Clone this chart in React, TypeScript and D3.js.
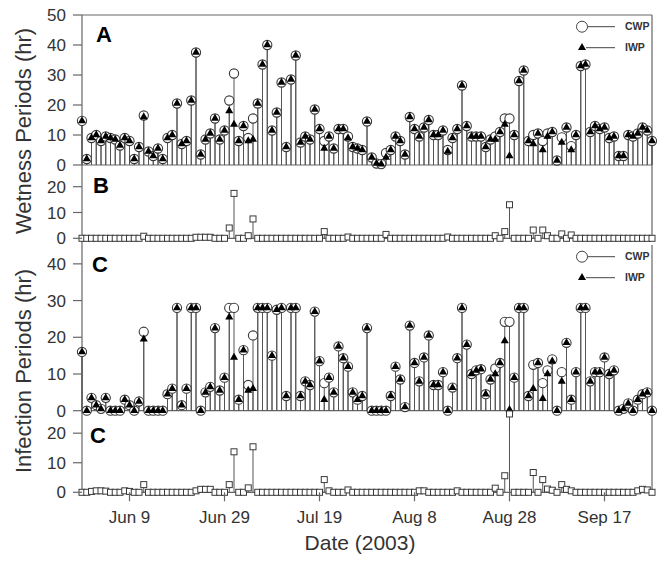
import React from 'react';
import * as d3 from 'd3';

// ---------- data ----------
const startDate = new Date(2003, 4, 30);
const endDate = new Date(2003, 8, 27);
const days = d3.timeDay.range(startDate, d3.timeDay.offset(endDate, 1));

// Panel A: wetness periods (hr)
const wetCWP = [
  14.7, 2, 9, 10, 8, 9.5, 9, 8.5, 6.5, 9,
  8, 2, 6, 16.5, 4.5, 3, 5.5, 2, 9, 10,
  20.5, 7, 8, 21.5, 37.5, 3.5, 8.5, 10.5, 15.5, 8.5,
  11.5, 21.5, 30.5, 8, 13, 9, 15.5, 20.5, 33.5, 40,
  11.5, 17.5, 27.5, 6, 28.5, 36.5, 7.5, 9.5, 8.5, 18.5,
  12, 8, 9.5, 5.5, 12, 12, 9.5, 6, 5.5, 5,
  14.5, 2.5, 0.5, 0.3, 4, 5, 9.5, 8, 3.5, 16,
  12, 9.5, 12.5, 15, 10, 10, 11.5, 5, 9, 12,
  26.5, 13, 9.5, 9.5, 9.5, 6, 8.5, 9.5, 11, 15.5,
  15.5, 10, 28, 31.5, 8, 10, 10.5, 8, 10.5, 11,
  1.5, 9.2, 12.5, 6.3, 10, 33, 33.5, 11, 13, 12,
  12.5, 9, 9.5, 3, 3, 10, 9.5, 10.5, 12.5, 11.5,
  8,
];
const wetIWP = [
  14.7, 2, 9, 10, 8, 9.5, 9, 8.5, 6.5, 9,
  8, 2, 6, 16, 4.5, 3, 5.5, 2, 9, 10,
  20.5, 7, 8, 21.5, 37.5, 3.5, 8.5, 10.5, 15.5, 8.5,
  11.5, 18, 13.5, 8, 13, 8, 8.5, 20.5, 33.5, 40,
  11.5, 17.5, 27.5, 6, 28.5, 36.5, 7.5, 9.5, 8.5, 18.5,
  12, 5.5, 9.5, 5.5, 12, 12, 9, 6, 5.5, 5,
  14.5, 2.5, 0.5, 0.3, 2.5, 5, 9.5, 8, 3.5, 16,
  12, 9.5, 12.5, 15, 10, 10, 11.5, 4.5, 9, 12,
  26.5, 13, 9.5, 9.5, 9.5, 6, 8.5, 8.5, 11, 13.5,
  3, 10, 28, 31.5, 8, 7, 10.5, 5, 9.5, 11,
  1.5, 7.5, 12.5, 5, 10, 33, 33.5, 11, 13, 12,
  12.5, 9, 9.5, 3, 3, 10, 9.5, 10.5, 12.5, 11.5,
  8,
];
// Panel B
const wetDiff = [
  0, 0, 0, 0, 0, 0, 0, 0, 0, 0,
  0, 0, 0, 0.8, 0, 0, 0, 0, 0, 0,
  0, 0, 0, 0, 0.4, 0.4, 0.4, 0.4, 0, 0,
  0, 4, 17.4, 0, 0, 1, 7.5, 0, 0, 0,
  0, 0, 0, 0, 0, 0, 0, 0, 0, 0,
  0, 2.6, 0, 0, 0, 0, 0.5, 0, 0, 0,
  0, 0, 0, 0, 1.5, 0, 0, 0, 0, 0,
  0, 0, 0, 0, 0, 0, 0, 0.5, 0, 0,
  0, 0, 0, 0, 0, 0, 0, 1, 0, 2.6,
  13, 0, 0, 0, 0, 3.2, 0, 3.2, 1, 0,
  0, 1.7, 0, 1.3, 0, 0, 0, 0, 0, 0,
  0, 0, 0, 0, 0, 0, 0, 0, 0, 0,
  0,
];
// Panel C: infection periods (hr)
const infCWP = [
  16, 0, 3.5, 1.5, 0.5, 3.5, 0, 0, 0, 3,
  1.5, 0, 2.5, 21.5, 0, 0, 0, 0, 4.5, 6,
  28, 1.5, 6, 28, 28, 0, 5, 6.5, 22.5, 5.5,
  9, 28, 28, 3, 16.5, 7, 20.5, 28, 28, 28,
  15, 27.5, 28, 4, 28, 28, 4, 8, 7, 27,
  13.5, 7.5, 9, 5, 17.5, 14.3, 12, 5, 3, 4,
  22.5, 0, 0, 0, 0, 4, 12, 8.5, 1, 23.2,
  13, 8, 14.5, 20.5, 7, 7, 10.5, 0, 6.3, 14.3,
  28, 18, 10, 11, 11.3, 4.5, 8.5, 11.5, 13, 24.2,
  24.2, 9, 28, 28, 4, 12.5, 13, 7.5, 11, 14,
  0, 10.5, 18.5, 3, 10.5, 28, 28, 8, 10.5, 10.5,
  14.5, 10, 11, 0, 0.5, 2, 0, 3, 4.5, 5,
  0,
];
const infIWP = [
  16, 0, 3.5, 1.5, 0.5, 3.5, 0, 0, 0, 3,
  1.5, 0, 2.5, 19.5, 0, 0, 0, 0, 4.5, 6,
  28, 1.5, 6, 28, 28, 0, 5, 6.5, 22.5, 5.5,
  9, 25.5, 14.5, 3, 16.5, 5.5, 6, 28, 28, 28,
  15, 27.5, 28, 4, 28, 28, 4, 8, 7, 27,
  13.5, 3, 9, 5, 17.5, 14.3, 12, 5, 3, 4,
  22.5, 0, 0, 0, 0, 4, 12, 8.5, 1, 23.2,
  13, 8, 14.5, 20.5, 7, 7, 10.5, 0, 6.3, 14.3,
  28, 18, 10, 11, 11.3, 4.5, 8.5, 10, 13, 19,
  0.3, 9, 28, 28, 4, 6, 13, 3.3, 10, 13.5,
  0, 8, 18.5, 3, 10.5, 28, 28, 8, 10.5, 10.5,
  14.5, 10, 11, 0, 0.5, 2, 0, 3, 4.5, 5,
  0,
];
// Panel D (second C)
const infDiff = [
  0, 0, 0.3, 0.5, 0.5, 0.4, 0, 0, 0, 0.5,
  0.3, 0, 0, 2.6, 0, 0, 0, 0, 0, 0,
  0, 0, 0, 0, 0.5, 1, 1, 1, 0, 0,
  0, 2.6, 13.7, 0, 0, 1.5, 15.4, 0, 0, 0,
  0, 0, 0, 0, 0, 0, 0, 0, 0, 0,
  0, 4.3, 0.5, 0, 0, 0, 0.8, 0, 0, 0,
  0, 0, 0, 0, 0, 0, 0, 0, 0, 0,
  0, 0.5, 0.5, 0, 0, 0, 0, 0, 0, 0.5,
  0, 0, 0, 0, 0, 0, 0, 1.4, 0, 5.6,
  26.5, 0, 0, 0, 0, 6.7, 0, 4.3, 1.1, 0.7,
  0, 2.6, 1, 0.5, 0, 0, 0, 0, 0, 0,
  0, 0, 0, 0, 0, 0, 0, 0.5, 1, 0.8,
  0,
];

const xTickDates = [
  new Date(2003, 5, 9), new Date(2003, 5, 29), new Date(2003, 6, 19),
  new Date(2003, 7, 8), new Date(2003, 7, 28), new Date(2003, 8, 17),
];
const xTickLabels = ['Jun 9', 'Jun 29', 'Jul 19', 'Aug 8', 'Aug 28', 'Sep 17'];
const yTicksA = [0, 10, 20, 30, 40, 50];
const yTicksB = [0, 10, 20];
const yTicksC = [0, 10, 20, 30, 40];
const yTicksD = [0, 10, 20];

// ---------- layout ----------
const W = 669, H = 566;
const X0 = 82, X1 = 652;
const FONT = '"Liberation Sans", Arial, Helvetica, sans-serif';
const TXT = '#333';
const STEM = '#555';
const FRAME = '#666';

const x = d3.scaleTime().domain([startDate, endDate]).range([X0, X1]);
const yA = d3.scaleLinear().domain([0, 50]).range([165, 15]);
const yB = d3.scaleLinear().domain([0, 28.4]).range([238.3, 165]);
const yC = d3.scaleLinear().domain([0, 45]).range([410.7, 245.5]);
const yD = d3.scaleLinear().domain([0, 27.5]).range([492.3, 411]);

const triPath = d3.symbol().type(d3.symbolTriangle).size(28)() as string;

function Stems({ data, y }: { data: number[]; y: d3.ScaleLinear<number, number> }) {
  return (
    <g stroke={STEM} strokeWidth={1}>
      {data.map((v, i) =>
        v > 0 ? (
          <line key={i} x1={x(days[i])} x2={x(days[i])} y1={y(0)} y2={y(v)} />
        ) : null
      )}
    </g>
  );
}

function Circles({ data, y }: { data: number[]; y: d3.ScaleLinear<number, number> }) {
  return (
    <g fill="#fff" stroke="#3a3a3a" strokeWidth={1.1}>
      {data.map((v, i) => (
        <circle key={i} cx={x(days[i])} cy={y(v)} r={4.6} />
      ))}
    </g>
  );
}

function Triangles({ data, y }: { data: number[]; y: d3.ScaleLinear<number, number> }) {
  return (
    <g fill="#000">
      {data.map((v, i) => (
        <path key={i} d={triPath} transform={`translate(${x(days[i])},${y(v)})`} />
      ))}
    </g>
  );
}

function Squares({ data, y }: { data: number[]; y: d3.ScaleLinear<number, number> }) {
  return (
    <g fill="#fff" stroke="#3a3a3a" strokeWidth={1}>
      {data.map((v, i) => (
        <rect key={i} x={x(days[i]) - 3} y={y(v) - 3} width={6} height={6} />
      ))}
    </g>
  );
}

function YAxis({ ticks, y }: { ticks: number[]; y: d3.ScaleLinear<number, number> }) {
  return (
    <g>
      {ticks.map((t) => (
        <g key={t}>
          <line x1={X0 - 9} x2={X0} y1={y(t)} y2={y(t)} stroke={FRAME} strokeWidth={1.2} />
          <text x={X0 - 16} y={y(t)} dy="0.36em" textAnchor="end" fontSize={17} fill={TXT} fontFamily={FONT}>
            {t}
          </text>
        </g>
      ))}
    </g>
  );
}

function Legend({ cy }: { cy: number }) {
  return (
    <g fontFamily={FONT} fontSize={10.5} fontWeight="bold" fill={TXT}>
      <line x1={586} x2={615} y1={cy} y2={cy} stroke="#444" />
      <circle cx={582} cy={cy} r={5.5} fill="#fff" stroke="#444" />
      <text x={625} y={cy} dy="0.36em">CWP</text>
      <line x1={586} x2={615} y1={cy + 21} y2={cy + 21} stroke="#444" />
      <path d={triPath} transform={`translate(582,${cy + 21})`} fill="#000" />
      <text x={625} y={cy + 21} dy="0.36em">IWP</text>
    </g>
  );
}

export default function App() {
  return (
    <svg
      width={W}
      height={H}
      viewBox={`0 0 ${W} ${H}`}
      style={{ position: 'absolute', left: 0, top: 0, background: '#fff' }}
    >
      <rect x={0} y={0} width={W} height={H} fill="#fff" />

      {/* frame lines */}
      <g stroke={FRAME} strokeWidth={1.2} fill="none">
        <line x1={X0} x2={X1} y1={15} y2={15} />
        <line x1={X1} x2={X1} y1={15} y2={239} />
        <line x1={X1} x2={X1} y1={245} y2={492.3} />
        <line x1={X0} x2={X0} y1={15} y2={495} />
        <line x1={X0} x2={X1} y1={yA(0)} y2={yA(0)} />
        <line x1={X0} x2={X1} y1={yB(0)} y2={yB(0)} />
        <line x1={X0} x2={X1} y1={yC(0)} y2={yC(0)} />
        <line x1={X0} x2={X1} y1={yD(0)} y2={yD(0)} />
      </g>

      {/* Panel A */}
      <Stems data={wetCWP} y={yA} />
      <Stems data={wetIWP} y={yA} />
      <Circles data={wetCWP} y={yA} />
      <Triangles data={wetIWP} y={yA} />

      {/* Panel B */}
      <Stems data={wetDiff} y={yB} />
      <Squares data={wetDiff} y={yB} />

      {/* Panel C */}
      <Stems data={infCWP} y={yC} />
      <Stems data={infIWP} y={yC} />
      <Circles data={infCWP} y={yC} />
      <Triangles data={infIWP} y={yC} />

      {/* Panel D */}
      <Stems data={infDiff} y={yD} />
      <Squares data={infDiff} y={yD} />

      {/* axes */}
      <YAxis ticks={yTicksA} y={yA} />
      <YAxis ticks={yTicksB} y={yB} />
      <YAxis ticks={yTicksC} y={yC} />
      <YAxis ticks={yTicksD} y={yD} />

      {/* x axis ticks */}
      <g>
        {xTickDates.map((d, i) => (
          <g key={i}>
            <line x1={x(d)} x2={x(d)} y1={yD(0)} y2={yD(0) + 9} stroke={FRAME} strokeWidth={1.2} />
            <text x={x(d)} y={523} textAnchor="middle" fontSize={17} fill={TXT} fontFamily={FONT}>
              {xTickLabels[i]}
            </text>
          </g>
        ))}
      </g>

      {/* axis titles */}
      <text x={360} y={550} textAnchor="middle" fontSize={21} fill={TXT} fontFamily={FONT}>
        Date (2003)
      </text>
      <text
        transform="translate(31,131) rotate(-90)"
        textAnchor="middle"
        fontSize={22}
        fill={TXT}
        fontFamily={FONT}
      >
        Wetness Periods (hr)
      </text>
      <text
        transform="translate(31,371) rotate(-90)"
        textAnchor="middle"
        fontSize={22}
        fill={TXT}
        fontFamily={FONT}
      >
        Infection Periods (hr)
      </text>

      {/* panel letters */}
      <g fontFamily={FONT} fontWeight="bold" fontSize={22} fill="#000">
        <text x={96} y={42}>A</text>
        <text x={93} y={193}>B</text>
        <text x={92} y={272}>C</text>
        <text x={90} y={443}>C</text>
      </g>

      <Legend cy={26.7} />
      <Legend cy={256.7} />
    </svg>
  );
}
